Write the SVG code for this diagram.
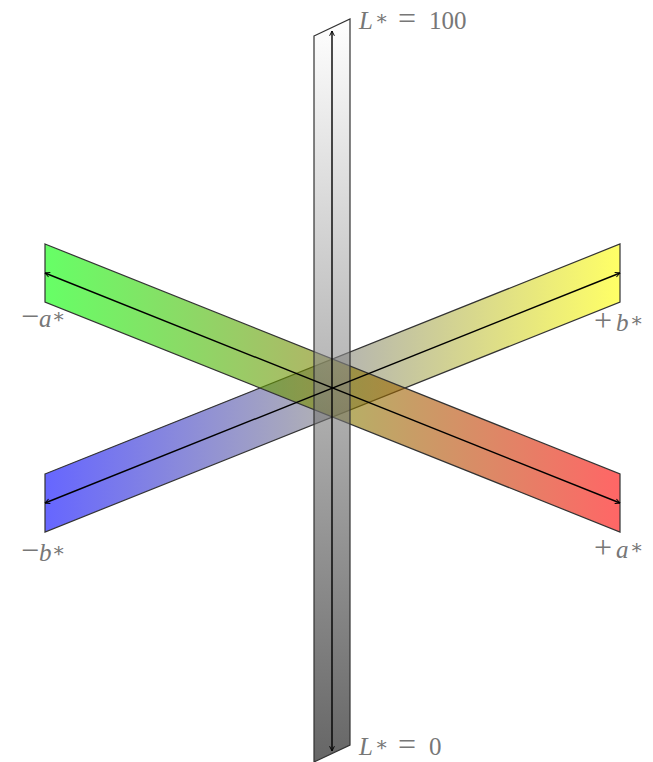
<svg xmlns="http://www.w3.org/2000/svg" width="653" height="762" viewBox="0 0 653 762">
<style>
.band{stroke:#333;stroke-width:1.2;stroke-linejoin:miter}
.axis{fill:none;stroke:#000;stroke-width:1.4}
.lbl{font-family:"Liberation Serif","DejaVu Serif",serif;font-size:25px;fill:#777}
.it{font-style:italic}
.op{font-size:32px}
.st{font-family:"DejaVu Serif",serif;font-size:20px}
</style>
<defs>
<linearGradient id="gA" gradientUnits="userSpaceOnUse" x1="45" y1="0" x2="620" y2="0">
<stop offset="0" stop-color="#00ff00"/><stop offset="1" stop-color="#ff0000"/>
</linearGradient>
<linearGradient id="gB" gradientUnits="userSpaceOnUse" x1="45" y1="0" x2="620" y2="0">
<stop offset="0" stop-color="#0000ff"/><stop offset="1" stop-color="#ffff00"/>
</linearGradient>
<linearGradient id="gL" gradientUnits="userSpaceOnUse" x1="0" y1="19" x2="0" y2="762">
<stop offset="0" stop-color="#ffffff"/><stop offset="1" stop-color="#000000"/>
</linearGradient>
<marker id="ah" viewBox="0 0 10 10" refX="9" refY="5" markerWidth="6" markerHeight="6" markerUnits="userSpaceOnUse" orient="auto-start-reverse">
<path d="M1,1 L9,5 L1,9" fill="none" stroke="#000" stroke-width="1.6"/>
</marker>
</defs>
<g id="band-b">
<polygon class="band" points="45,474 620,244 620,302 45,532" fill="url(#gB)" fill-opacity="0.6"/>
</g>
<g id="band-a">
<polygon class="band" points="45,244 620,474 620,532 45,302" fill="url(#gA)" fill-opacity="0.6"/>
</g>
<g id="band-L">
<polygon class="band" points="314,36 350,19 350,745 314,762" fill="url(#gL)" fill-opacity="0.6"/>
</g>
<g id="connectors">
<line class="axis" x1="45" y1="503" x2="620" y2="273" marker-start="url(#ah)" marker-end="url(#ah)"/>
<line class="axis" x1="45" y1="273" x2="620" y2="503" marker-start="url(#ah)" marker-end="url(#ah)"/>
<line class="axis" x1="332" y1="31" x2="332" y2="751" marker-start="url(#ah)" marker-end="url(#ah)"/>
</g>
<g id="labels">
<text class="lbl" y="29"><tspan class="it" x="359">L</tspan><tspan class="st" x="375" dy="-4">∗</tspan><tspan class="op" x="398" dy="4">=</tspan><tspan x="429">100</tspan></text>
<text class="lbl" y="755"><tspan class="it" x="359">L</tspan><tspan class="st" x="375" dy="-4">∗</tspan><tspan class="op" x="398" dy="4">=</tspan><tspan x="429">0</tspan></text>
<text class="lbl" y="327"><tspan class="op" x="21">−</tspan><tspan class="it" x="39">a</tspan><tspan class="st" x="52" dy="-4">∗</tspan></text>
<text class="lbl" y="331"><tspan class="op" x="594">+</tspan><tspan class="it" x="616">b</tspan><tspan class="st" x="630" dy="-4">∗</tspan></text>
<text class="lbl" y="561"><tspan class="op" x="21">−</tspan><tspan class="it" x="39">b</tspan><tspan class="st" x="52" dy="-4">∗</tspan></text>
<text class="lbl" y="558"><tspan class="op" x="594">+</tspan><tspan class="it" x="616">a</tspan><tspan class="st" x="630" dy="-4">∗</tspan></text>
</g>
</svg>
